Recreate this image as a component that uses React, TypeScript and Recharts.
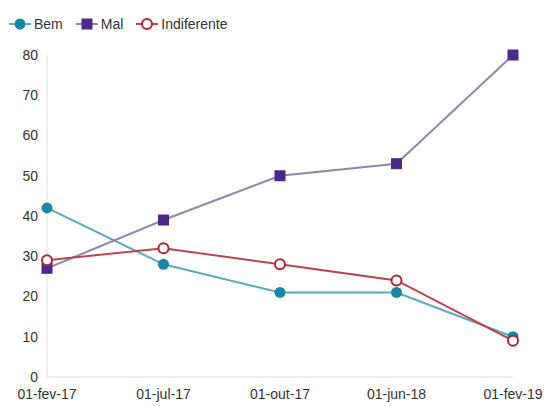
import React from 'react';
import { LineChart, Line, XAxis, YAxis, Legend } from 'recharts';

const categories = ['01-fev-17', '01-jul-17', '01-out-17', '01-jun-18', '01-fev-19'];
const bem = [42, 28, 21, 21, 10];
const mal = [27, 39, 50, 53, 80];
const indiferente = [29, 32, 28, 24, 9];
const yTicks = [0, 10, 20, 30, 40, 50, 60, 70, 80];

const data = categories.map((c, i) => ({ name: c, Bem: bem[i], Mal: mal[i], Indiferente: indiferente[i] }));

const series = [
  { key: 'Bem', line: '#5aaab6', marker: '#1a86a6', shape: 'circle' },
  { key: 'Mal', line: '#8c88aa', marker: '#4b2a8a', shape: 'square' },
  { key: 'Indiferente', line: '#b8444f', marker: '#a82834', shape: 'hollow' },
];

const Marker = (props: any) => {
  const { cx, cy, shape, color } = props;
  if (cx == null || cy == null) return null;
  if (shape === 'square') return <rect x={cx - 5.5} y={cy - 5.5} width={11} height={11} fill={color} />;
  if (shape === 'hollow') return <circle cx={cx} cy={cy} r={5} fill="#fff" stroke={color} strokeWidth={2} />;
  return <circle cx={cx} cy={cy} r={5.5} fill={color} />;
};

const LegendContent = () => (
  <div style={{ display: 'flex', alignItems: 'center', fontFamily: 'Liberation Sans, Arial, sans-serif', fontSize: 14, color: '#333' }}>
    {series.map((s) => (
      <div key={s.key} style={{ display: 'flex', alignItems: 'center', marginRight: 13 }}>
        <svg width={22} height={14} style={{ marginRight: 3 }}>
          <line x1={0} y1={7} x2={22} y2={7} stroke={s.line} strokeWidth={2} />
          <Marker cx={11} cy={7} shape={s.shape} color={s.marker} />
        </svg>
        <span>{s.key}</span>
      </div>
    ))}
  </div>
);

const tickStyle = { fill: '#333', fontSize: 14, fontFamily: 'Liberation Sans, Arial, sans-serif' };

export default function App() {
  return (
    <div style={{ position: 'absolute', left: 0, top: 0, width: 546, height: 406, background: '#fff' }}>
      <LineChart width={546} height={406} data={data} margin={{ top: 39, right: 33, bottom: 0, left: 0 }}>
        <Legend
          verticalAlign="top"
          align="left"
          content={<LegendContent />}
          wrapperStyle={{ position: 'absolute', top: 16, left: 9, width: 300, height: 16 }}
        />
        <XAxis
          dataKey="name"
          height={29}
          padding={{ left: 0, right: 0 }}
          tickLine={false}
          axisLine={{ stroke: '#e0e0e0' }}
          tick={tickStyle}
          tickMargin={6}
          interval={0}
        />
        <YAxis
          width={47}
          domain={[0, 80]}
          ticks={yTicks}
          tickLine={false}
          axisLine={{ stroke: '#e0e0e0' }}
          tick={tickStyle}
          tickMargin={3}
        />
        {series.map((s) => (
          <Line
            key={s.key}
            dataKey={s.key}
            type="linear"
            stroke={s.line}
            strokeWidth={2}
            isAnimationActive={false}
            dot={<Marker shape={s.shape} color={s.marker} />}
            activeDot={false}
          />
        ))}
      </LineChart>
    </div>
  );
}
